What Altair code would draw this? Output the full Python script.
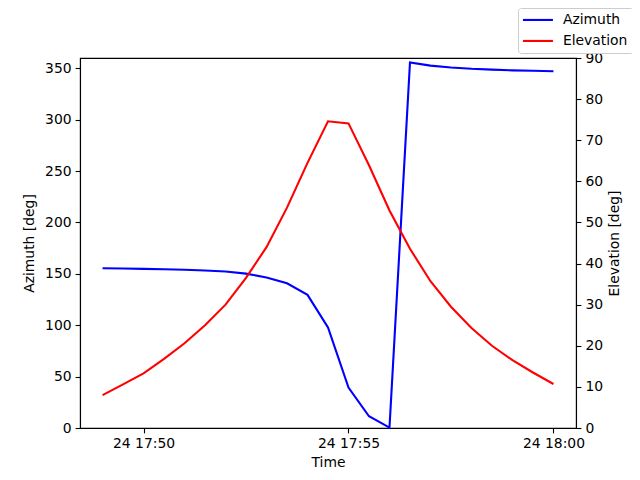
import altair as alt
import pandas as pd

# --- data (30 s samples) ---
times = [
    "2024-01-24T17:49:00", "2024-01-24T17:49:30", "2024-01-24T17:50:00", "2024-01-24T17:50:30",
    "2024-01-24T17:51:00", "2024-01-24T17:51:30", "2024-01-24T17:52:00", "2024-01-24T17:52:30",
    "2024-01-24T17:53:00", "2024-01-24T17:53:30", "2024-01-24T17:54:00", "2024-01-24T17:54:30",
    "2024-01-24T17:55:00", "2024-01-24T17:55:30", "2024-01-24T17:56:00", "2024-01-24T17:56:30",
    "2024-01-24T17:57:00", "2024-01-24T17:57:30", "2024-01-24T17:58:00", "2024-01-24T17:58:30",
    "2024-01-24T17:59:00", "2024-01-24T17:59:30", "2024-01-24T18:00:00",
]
azimuth = [155.5, 155.2, 154.8, 154.4, 153.9, 153.2, 152.3, 150.2, 146.5, 140.8, 129.5, 97.8,
           39.3, 11.4, 0.4, 355.6, 352.6, 350.8, 349.5, 348.7, 348.0, 347.6, 347.1]
elevation = [8.0, 10.6, 13.3, 16.8, 20.6, 25.0, 30.0, 36.5, 44.0, 53.6, 64.5, 74.6,
             74.1, 63.9, 52.9, 43.6, 35.7, 29.5, 24.3, 20.0, 16.5, 13.5, 10.7]

series_names = ["Azimuth", "Elevation"]
series_colors = ["#0000ff", "#ff0000"]
az_ticks = [0, 50, 100, 150, 200, 250, 300, 350]
el_ticks = [0, 10, 20, 30, 40, 50, 60, 70, 80, 90]

df = pd.DataFrame({"time": times, "azimuth": azimuth, "elevation": elevation})

FONT = "DejaVu Sans"
FS = 13.9

x_enc = alt.X(
    "time:T",
    title="Time",
    scale=alt.Scale(domain=[
        alt.DateTime(year=2024, month=1, date=24, hours=17, minutes=48, seconds=27),
        alt.DateTime(year=2024, month=1, date=24, hours=18, minutes=0, seconds=33),
    ]),
    axis=alt.Axis(
        format="%d %H:%M",
        values=[
            alt.DateTime(year=2024, month=1, date=24, hours=17, minutes=50),
            alt.DateTime(year=2024, month=1, date=24, hours=17, minutes=55),
            alt.DateTime(year=2024, month=1, date=24, hours=18, minutes=0),
        ],
        titlePadding=5,
    ),
)

color_scale = alt.Scale(domain=series_names, range=series_colors)
legend = alt.Legend(
    title=None,
    orient="none",
    legendX=438,
    legendY=-50,
    symbolType="M-1.4,0H4.6",
    symbolSize=100,
    symbolStrokeWidth=2.1,
    labelOffset=26,
    labelFont=FONT,
    labelFontSize=FS,
    labelColor="black",
    rowPadding=6,
    padding=5,
    strokeColor="#cccccc",
    fillColor="white",
    cornerRadius=3,
)
color_enc = alt.Color("series:N", scale=color_scale, legend=legend)

az = alt.Chart(df).transform_calculate(series="'Azimuth'").mark_line(strokeWidth=2.1).encode(
    x=x_enc,
    y=alt.Y("azimuth:Q", title="Azimuth [deg]",
            scale=alt.Scale(domain=[0, 360], nice=False, zero=False),
            axis=alt.Axis(orient="left", values=az_ticks, titlePadding=8)),
    color=color_enc,
)

el = alt.Chart(df).transform_calculate(series="'Elevation'").mark_line(strokeWidth=2.1).encode(
    x=x_enc,
    y=alt.Y("elevation:Q", title="Elevation [deg]",
            scale=alt.Scale(domain=[0, 90], nice=False, zero=False),
            axis=alt.Axis(orient="right", values=el_ticks, titlePadding=5,
                          titleAngle=270, titleBaseline="top")),
    color=color_enc,
)

chart = (
    alt.layer(az, el)
    .resolve_scale(y="independent")
    .properties(
        width=496,
        height=370,
        autosize=alt.AutoSizeParams(type="none"),
        padding={"left": 72, "top": 50, "right": 56, "bottom": 44},
        background="white",
    )
    .configure_view(stroke="black", strokeWidth=1.1)
    .configure_axis(
        grid=False,
        labelFont=FONT,
        labelFontSize=FS,
        labelColor="black",
        labelPadding=4,
        tickColor="black",
        tickSize=4.9,
        tickWidth=1.1,
        domainColor="black",
        domainWidth=1.1,
        titleFont=FONT,
        titleFontSize=FS,
        titleFontWeight="normal",
        titleColor="black",
    )
)

chart.save("out.html", embed_options={"renderer": "svg", "actions": False})
